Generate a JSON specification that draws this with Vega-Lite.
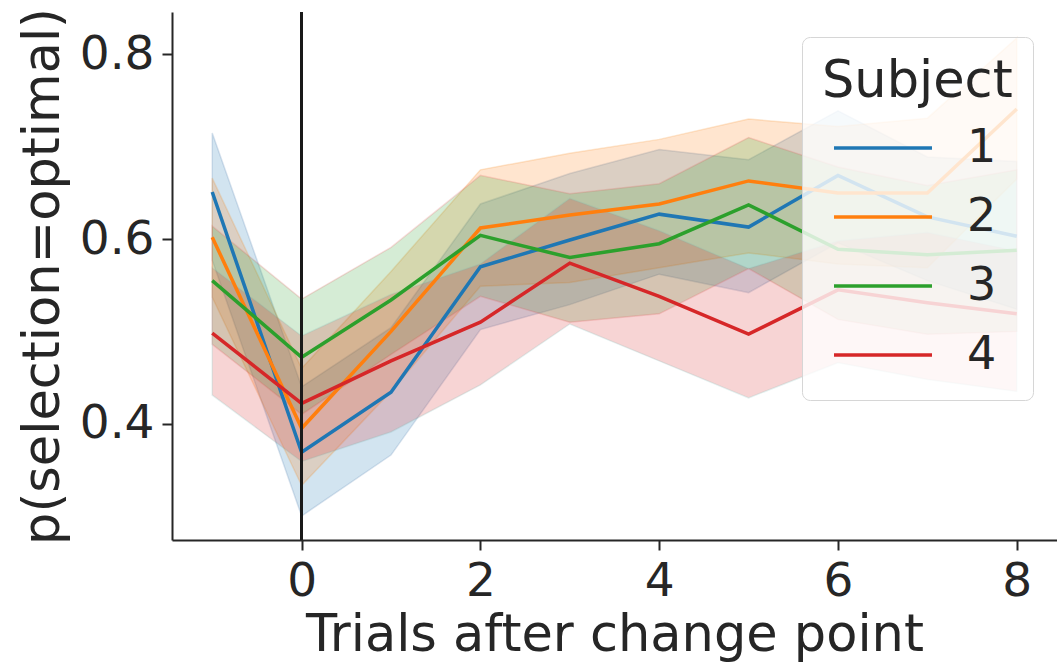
{
  "$schema": "https://vega.github.io/schema/vega-lite/v6.json",
  "width": 885,
  "height": 528,
  "autosize": "none",
  "padding": {"left": 172, "top": 12, "right": 0, "bottom": 127},
  "background": "white",
  "config": {
    "font": "DejaVu Sans",
    "view": {"stroke": null},
    "axis": {
      "domainColor": "#262626", "domainWidth": 2,
      "tickColor": "#262626", "tickWidth": 2, "tickSize": 10,
      "labelColor": "#262626", "labelFontSize": 47, "labelPadding": 8,
      "titleColor": "#262626", "titleFontSize": 51, "titleFontWeight": "normal",
      "grid": false
    },
    "legend": {
      "fillColor": "rgba(255,255,255,0.8)", "strokeColor": "#d6d6d6", "cornerRadius": 8, "padding": 20,
      "titleFontSize": 51, "titleFontWeight": "normal", "titleColor": "#262626", "titlePadding": 15, "titleLimit": 400,
      "labelFontSize": 46, "labelColor": "#262626", "labelOffset": 33,
      "symbolType": "stroke", "symbolSize": 9600, "symbolStrokeWidth": 3.5, "symbolOffset": 10,
      "clipHeight": 50, "rowPadding": 19
    }
  },
  "data": {"values": [
    {"subject": "1", "trial": -1, "mean": 0.651, "lo": 0.577, "hi": 0.715},
    {"subject": "1", "trial": 0, "mean": 0.369, "lo": 0.300, "hi": 0.440},
    {"subject": "1", "trial": 1, "mean": 0.434, "lo": 0.366, "hi": 0.504},
    {"subject": "1", "trial": 2, "mean": 0.570, "lo": 0.502, "hi": 0.638},
    {"subject": "1", "trial": 3, "mean": 0.599, "lo": 0.529, "hi": 0.671},
    {"subject": "1", "trial": 4, "mean": 0.627, "lo": 0.562, "hi": 0.697},
    {"subject": "1", "trial": 5, "mean": 0.613, "lo": 0.542, "hi": 0.686},
    {"subject": "1", "trial": 6, "mean": 0.669, "lo": 0.596, "hi": 0.739},
    {"subject": "1", "trial": 7, "mean": 0.624, "lo": 0.555, "hi": 0.689},
    {"subject": "1", "trial": 8, "mean": 0.603, "lo": 0.524, "hi": 0.684},
    {"subject": "2", "trial": -1, "mean": 0.602, "lo": 0.537, "hi": 0.666},
    {"subject": "2", "trial": 0, "mean": 0.395, "lo": 0.333, "hi": 0.460},
    {"subject": "2", "trial": 1, "mean": 0.500, "lo": 0.435, "hi": 0.565},
    {"subject": "2", "trial": 2, "mean": 0.612, "lo": 0.549, "hi": 0.675},
    {"subject": "2", "trial": 3, "mean": 0.626, "lo": 0.553, "hi": 0.693},
    {"subject": "2", "trial": 4, "mean": 0.638, "lo": 0.569, "hi": 0.708},
    {"subject": "2", "trial": 5, "mean": 0.663, "lo": 0.585, "hi": 0.730},
    {"subject": "2", "trial": 6, "mean": 0.650, "lo": 0.573, "hi": 0.722},
    {"subject": "2", "trial": 7, "mean": 0.650, "lo": 0.569, "hi": 0.731},
    {"subject": "2", "trial": 8, "mean": 0.741, "lo": 0.665, "hi": 0.818},
    {"subject": "3", "trial": -1, "mean": 0.555, "lo": 0.486, "hi": 0.614},
    {"subject": "3", "trial": 0, "mean": 0.472, "lo": 0.410, "hi": 0.535},
    {"subject": "3", "trial": 1, "mean": 0.534, "lo": 0.475, "hi": 0.591},
    {"subject": "3", "trial": 2, "mean": 0.604, "lo": 0.538, "hi": 0.669},
    {"subject": "3", "trial": 3, "mean": 0.580, "lo": 0.510, "hi": 0.649},
    {"subject": "3", "trial": 4, "mean": 0.595, "lo": 0.519, "hi": 0.660},
    {"subject": "3", "trial": 5, "mean": 0.637, "lo": 0.568, "hi": 0.710},
    {"subject": "3", "trial": 6, "mean": 0.589, "lo": 0.513, "hi": 0.678},
    {"subject": "3", "trial": 7, "mean": 0.583, "lo": 0.497, "hi": 0.658},
    {"subject": "3", "trial": 8, "mean": 0.588, "lo": 0.500, "hi": 0.675},
    {"subject": "4", "trial": -1, "mean": 0.498, "lo": 0.431, "hi": 0.569},
    {"subject": "4", "trial": 0, "mean": 0.422, "lo": 0.359, "hi": 0.495},
    {"subject": "4", "trial": 1, "mean": 0.468, "lo": 0.391, "hi": 0.540},
    {"subject": "4", "trial": 2, "mean": 0.510, "lo": 0.442, "hi": 0.573},
    {"subject": "4", "trial": 3, "mean": 0.574, "lo": 0.508, "hi": 0.644},
    {"subject": "4", "trial": 4, "mean": 0.538, "lo": 0.468, "hi": 0.609},
    {"subject": "4", "trial": 5, "mean": 0.497, "lo": 0.428, "hi": 0.568},
    {"subject": "4", "trial": 6, "mean": 0.545, "lo": 0.466, "hi": 0.598},
    {"subject": "4", "trial": 7, "mean": 0.531, "lo": 0.448, "hi": 0.607},
    {"subject": "4", "trial": 8, "mean": 0.519, "lo": 0.435, "hi": 0.587}
  ]},
  "encoding": {
    "x": {
      "field": "trial", "type": "quantitative",
      "scale": {"domain": [-1.45, 8.45], "nice": false, "zero": false},
      "axis": {"values": [0, 2, 4, 6, 8], "title": "Trials after change point", "titlePadding": 6}
    },
    "color": {
      "field": "subject", "type": "nominal",
      "scale": {"domain": ["1", "2", "3", "4"], "range": ["#1f77b4", "#ff7f0e", "#2ca02c", "#d62728"]},
      "legend": {"title": "Subject", "orient": "none", "legendX": 630, "legendY": 25}
    }
  },
  "layer": [
    {
      "mark": {"type": "area", "fillOpacity": 0.2, "strokeOpacity": 0.2, "strokeWidth": 1.5},
      "encoding": {
        "y": {"field": "lo", "type": "quantitative"},
        "y2": {"field": "hi"},
        "stroke": {"field": "subject", "type": "nominal", "legend": null}
      }
    },
    {
      "mark": {"type": "line", "strokeWidth": 3.5},
      "encoding": {
        "y": {
          "field": "mean", "type": "quantitative",
          "scale": {"domain": [0.274, 0.846], "nice": false, "zero": false},
          "axis": {"values": [0.4, 0.6, 0.8], "format": ".1f", "title": "p(selection=optimal)", "titlePadding": 10}
        }
      }
    },
    {
      "mark": {"type": "rule", "color": "#1a1a1a", "strokeWidth": 2.5},
      "encoding": {"x": {"datum": 0}, "color": {"value": "#1a1a1a"}}
    }
  ]
}
